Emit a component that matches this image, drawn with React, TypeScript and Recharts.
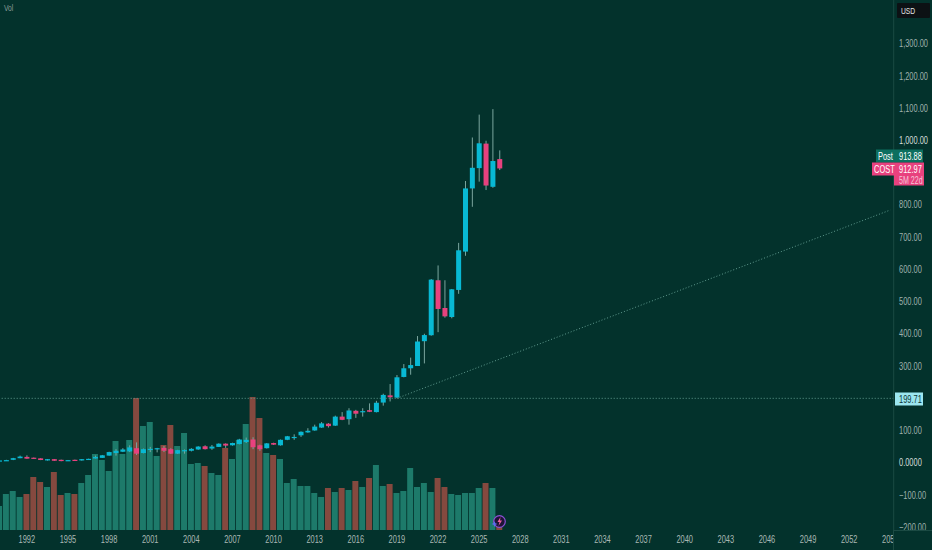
import { Bar, Cell, ComposedChart, ReferenceLine, XAxis, YAxis } from "recharts";

const BG = "#03322c";
const GRID = "#1b4a43";
const UP = "#08b9d4";
const DOWN = "#e8417e";
const WICK = "#7ba69f";
const VOL_UP = "#1d7a6a";
const VOL_DOWN = "#85493f";
const FONT = "'Liberation Sans', sans-serif";

// half-year periods, 1990 H1 up to the edge of the time axis (2055 H1)
const PERIODS: string[] = [];
for (let year = 1990; year <= 2054; year++) PERIODS.push(`${year}H1`, `${year}H2`);
PERIODS.push("2055H1");
const YEARS = ["1992", "1995", "1998", "2001", "2004", "2007", "2010", "2013", "2016", "2019", "2022", "2025", "2028", "2031", "2034", "2037", "2040", "2043", "2046", "2049", "2052", "2055"];
const PRICE_TICKS = [1300, 1200, 1100, 1000, 800, 700, 600, 500, 400, 300, 100, 0, -100, -200];

const OPENS = [
  6, 7, 9, 14, 18, 15.5, 13.5, 7, 11, 9, 7, 9, 7, 10, 13, 15, 22, 30, 34, 35, 45, 30, 40, 42, 46, 42, 28, 36, 37, 41,
  51, 44, 49, 59, 54, 58, 64, 72, 54, 45, 61, 54, 71, 77, 85, 94, 100, 109, 121, 115, 143, 135, 161, 157, 163, 157,
  186.6, 209, 202, 266, 293, 300, 377, 395.5, 566, 480, 452, 536, 655, 851, 914, 990, 856, 942,
];
const CLOSES = [
  7, 8, 14, 19, 12.5, 12.5, 8.4, 11, 6, 5, 8, 7, 11, 12, 18, 23, 33, 37, 41, 47.5, 28, 42, 43, 45, 37, 28, 39, 39, 43,
  50, 42, 50, 59, 53, 61, 72, 71, 48, 42, 60, 56, 71, 82, 80, 96, 99, 112, 122, 113.5, 143, 133, 162, 152, 160, 158,
  186, 210.3, 203, 265, 293, 303, 376, 396, 568, 477, 454, 538, 659, 851, 915, 991, 860, 936, 912.97,
];
const HIGHS = [
  7, 9, 15, 22, 22.8, 16, 14, 11.5, 11.5, 9.5, 8.5, 9.5, 11.5, 12.5, 22, 24, 34, 42, 45, 54, 63, 44, 49, 46, 52, 45,
  40, 41, 45, 51, 54, 55, 60, 60, 62, 74, 78, 79, 56, 61, 62, 72, 83, 88, 97, 107, 118, 126, 123, 146, 157, 169, 164,
  169, 184, 192, 214, 244, 272, 306, 326, 393, 400, 570, 612, 566, 539, 682, 874, 1009, 1080, 999, 1097, 969,
];
const LOWS = [
  5.5, 6.5, 8, 14, 12, 12, 8, 6.5, 5.5, 4.5, 6.5, 6.5, 6.5, 9.5, 13, 15, 22, 22, 33, 33, 24, 29, 33, 32, 33, 27, 27,
  28, 35, 40, 41, 40, 49, 46, 53, 57, 61, 42, 37, 44, 55, 53, 70, 71, 80, 93, 99, 108, 109, 114, 132, 118, 139, 143,
  157, 156, 177, 190, 201, 265, 273, 300, 308, 394, 405, 450, 448, 524, 642, 794, 872, 846, 853, 908,
];
// volume pane values, in the pane's own relative units
const VOLUMES = [
  24, 36, 39, 33, 36, 53, 48, 43, 58, 35, 37, 36, 47, 55, 76, 70, 59, 89, 76, 90, 132, 104, 108, 74, 85, 105, 84, 97,
  66, 67, 64, 57, 55, 82, 71, 90, 106, 133, 112, 77, 75, 71, 47, 51, 44, 44, 37, 33, 42, 38, 42, 40, 49, 43, 52, 65,
  44, 46, 37, 39, 62, 43, 47, 38, 52, 43, 36, 35, 37, 37, 42, 47, 42, 3,
];

const LEVEL = 199.71;
const TREND_END = 784;

const rows = PERIODS.map((period, i) => ({
  period,
  open: OPENS[i],
  close: CLOSES[i],
  high: HIGHS[i],
  low: LOWS[i],
  range: HIGHS[i] === undefined ? undefined : [LOWS[i], HIGHS[i]],
  volume: VOLUMES[i],
}));

// the reference uses a narrow face, none is installed so squeeze Liberation Sans
function Narrow({ x, y, text, fill = "#fff", size = 10.5, squeeze = 0.71, anchor = "start", clip }: any) {
  return (
    <g clipPath={clip}>
      <text
        transform={`translate(${x} ${y}) scale(${squeeze} 1)`}
        textAnchor={anchor}
        fontSize={size}
        fontFamily={FONT}
        fill={fill}
      >
        {text}
      </text>
    </g>
  );
}

// wick and body, scaled from the pixel box Recharts gives the low-high range
function Candle(props: any) {
  const { x, y, width, height, payload } = props;
  if (payload.high === undefined) return null;
  const top = Math.min(y, y + height);
  const perUnit = Math.abs(height) / (payload.high - payload.low);
  const toY = (v: number) => top + (payload.high - v) * perUnit;
  const up = payload.close >= payload.open;
  const bodyTop = toY(Math.max(payload.open, payload.close));
  const bodyH = Math.max(Math.abs(payload.open - payload.close) * perUnit, 1.2);
  const mid = x + width / 2;
  return (
    <g>
      <line x1={mid} x2={mid} y1={top} y2={top + Math.abs(height)} stroke={WICK} strokeWidth={1} />
      <rect x={x} y={bodyTop} width={width} height={bodyH} fill={up ? UP : DOWN} />
    </g>
  );
}

function PriceTick({ y, payload }: any) {
  const v = payload.value as number;
  const label = v === 0 ? "0.0000" : v.toLocaleString("en-US", { minimumFractionDigits: 2, maximumFractionDigits: 2 }).replace("-", "\u2212");
  const strong = v === 0 || v === 1000;
  return <Narrow x={899} y={y + 3.6} text={label} fill={strong ? "#d5dedb" : "#9fb1ac"} />;
}

function YearTick({ x, payload }: any) {
  const id = `t${payload.value}`;
  return (
    <g>
      <clipPath id={id}>
        <rect x={0} y={530} width={893.5} height={20} />
      </clipPath>
      <Narrow x={x} y={543} text={String(payload.value).slice(0, 4)} fill="#a9b8b4" anchor="middle" clip={`url(#${id})`} />
    </g>
  );
}

export default function App() {
  return (
    <div style={{ position: "absolute", left: 0, top: 0, width: 932, height: 550, background: BG, overflow: "hidden" }}>
      <ComposedChart
        width={932}
        height={550}
        data={rows}
        margin={{ top: 0, right: 0, left: -3.98, bottom: 0 }}
      >
        <XAxis
          xAxisId="vol"
          dataKey="period"
          ticks={YEARS.map((y) => `${y}H1`)}
          interval={0}
          height={20}
          stroke={GRID}
          tickLine={false}
          tick={<YearTick />}
        />
        <XAxis xAxisId="price" dataKey="period" hide />
        <YAxis yAxisId="vol" hide domain={[0, 530]} />
        <YAxis
          yAxisId="price"
          orientation="right"
          width={38.3}
          domain={[-208.8, 1435.6]}
          ticks={PRICE_TICKS}
          interval={0}
          stroke={GRID}
          tickLine={false}
          tick={<PriceTick />}
        />
        <ReferenceLine xAxisId="price" yAxisId="price" y={LEVEL} stroke="#5f9a8e" strokeDasharray="1 2" />
        <ReferenceLine
          xAxisId="price"
          yAxisId="price"
          stroke="#5f9a8e"
          strokeDasharray="1 2"
          segment={[
            { x: "2019H1", y: LEVEL },
            { x: "2055H1", y: TREND_END },
          ]}
        />
        <Bar xAxisId="vol" yAxisId="vol" dataKey="volume" barSize={6} isAnimationActive={false}>
          {rows.map((r) => (
            <Cell key={r.period} fill={r.close < r.open ? VOL_DOWN : VOL_UP} />
          ))}
        </Bar>
        <Bar xAxisId="price" yAxisId="price" dataKey="range" barSize={5} shape={<Candle />} isAnimationActive={false} />
      </ComposedChart>

      <svg width={932} height={550} style={{ position: "absolute", left: 0, top: 0, pointerEvents: "none" }}>
        <line x1={893.5} x2={893.5} y1={530} y2={550} stroke={GRID} />
        <line x1={893.5} x2={932} y1={530.5} y2={530.5} stroke={GRID} />
        <Narrow x={4} y={11} text="Vol" fill="#8a9d98" size={9.5} />

        <rect x={897} y={3} width={33} height={15} rx={1} fill="#0c1114" />
        <Narrow x={901} y={14} text="USD" fill="#e4e8e7" size={9.5} />

        <rect x={876} y={149.5} width={47} height={13} fill="#0d6f5f" />
        <Narrow x={878} y={159.8} text="Post" />
        <Narrow x={899} y={159.8} text="913.88" />

        <rect x={872} y={162.5} width={52} height={13} fill="#e8417e" />
        <rect x={894} y={175} width={30} height={10.5} fill="#e8417e" />
        <Narrow x={874} y={172.8} text="COST" />
        <Narrow x={899} y={172.8} text="912.97" />
        <Narrow x={899} y={183.5} text="5M 22d" fill="#f6c4d6" size={10} />

        <rect x={895} y={392.5} width={28} height={13} fill="#9ce6ef" />
        <Narrow x={899} y={402.8} text="199.71" fill="#0b3436" />

        <circle cx={499.5} cy={521.5} r={5.8} fill="#1e1436" stroke="#8d4fd6" strokeWidth={1.2} />
        <path d="M500.5 517 L497.5 522 L499.5 522 L498.5 526 L502 520.5 L500 520.5 Z" fill="#ef5fa0" />
        <path d="M494.5 521 L495.4 523.2 L497.5 524 L495.4 524.8 L494.5 527 L493.6 524.8 L491.5 524 L493.6 523.2 Z" fill="#5c6ef0" />
      </svg>
    </div>
  );
}
